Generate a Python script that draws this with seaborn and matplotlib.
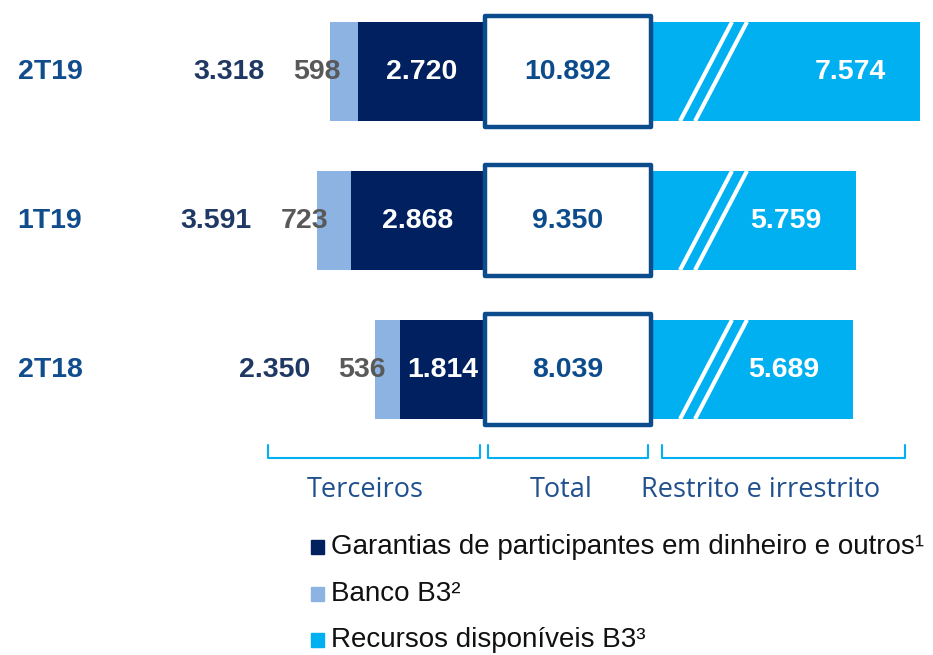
import matplotlib
matplotlib.use('Agg')
import numpy as np
import pandas as pd
import matplotlib.pyplot as plt
import seaborn as sns
from matplotlib.patches import Rectangle

# --- data (R$ milhões) ---
periodos = ['2T19', '1T19', '2T18']
garantias = [2720, 2868, 1814]      # Garantias de participantes em dinheiro e outros
banco_b3 = [598, 723, 536]          # Banco B3
terceiros = [3318, 3591, 2350]      # total de terceiros
total = [10892, 9350, 8039]
recursos = [7574, 5759, 5689]       # Recursos disponíveis B3

legend_labels = ['Garantias de participantes em dinheiro e outros¹', 'Banco B3²', 'Recursos disponíveis B3³']
grupos = ['Terceiros', 'Total', 'Restrito e irrestrito']

# --- colours ---
NAVY = '#002060'
LIGHT = '#8DB3E2'
CYAN = '#00B0F0'
BOX_BLUE = '#0D4C8C'
CAT_BLUE = '#114D8C'
DARK_LBL = '#1F3864'
GREY_LBL = '#595959'
GROUP_BLUE = '#21508F'

# --- layout constants ---
PX = 21.37            # data units per pixel
ZERO_PX = 485         # pixel where the left bars start
BOX_W = 166 * PX      # width of the "Total" box
RIGHT_SCALE = 0.76    # right side is drawn on a broken (compressed) scale

df = pd.DataFrame({
    'periodo': periodos,
    'garantias': garantias,
    'banco': banco_b3,
    'terceiros': terceiros,
    'total': total,
    'recursos': recursos,
})
df['esq_terceiros'] = -df['terceiros']
df['esq_garantias'] = -df['garantias']
df['dir_recursos'] = BOX_W + RIGHT_SCALE * df['recursos']
df['caixa'] = BOX_W

sns.set_theme(style='white')
plt.rcParams['font.family'] = ['Liberation Sans', 'DejaVu Sans']

fig = plt.figure(figsize=(9.33, 6.55), dpi=100)
ax = fig.add_axes([0, 0, 1, 1])

# --- bars ---
common = dict(y='periodo', orient='h', saturation=1, linewidth=0, ax=ax, data=df)
sns.barplot(x='esq_terceiros', color=LIGHT, width=0.665, **common)
sns.barplot(x='esq_garantias', color=NAVY, width=0.665, **common)
sns.barplot(x='dir_recursos', color=CYAN, width=0.665, **common)
n_before = len(ax.patches)
sns.barplot(data=df, x='caixa', y='periodo', orient='h', saturation=1, color='white',
            edgecolor=BOX_BLUE, linewidth=3.2, width=0.745, ax=ax)
for p in ax.patches[n_before:]:
    p.set_joinstyle('round')

# break marks on the right bars
for i in range(len(periodos)):
    for xc in (BOX_W + 55 * PX, BOX_W + 70 * PX):
        ax.plot([xc - 26 * PX, xc + 26 * PX], [i + 0.333, i - 0.333],
                color='white', lw=3, solid_capstyle='butt')

ax.set_xlim(-ZERO_PX * PX, (933 - ZERO_PX) * PX)
ax.set_ylim(3.916, -0.48)
ax.axis('off')


def fmt(v):
    return f"{v:,}".replace(',', '.')


val_kw = dict(va='center', fontsize=20.5, fontweight='bold')
for i, row in df.iterrows():
    ax.text(-ZERO_PX * PX + 50 * PX, i, row['periodo'], ha='center', color=CAT_BLUE, **val_kw)
    ax.text(-row['terceiros'] - 65 * PX, i, fmt(row['terceiros']), ha='right', color=DARK_LBL, **val_kw)
    ax.text(-row['terceiros'] + 11 * PX, i, fmt(row['banco']), ha='right', color=GREY_LBL, **val_kw)
    ax.text(-row['garantias'] / 2, i, fmt(row['garantias']), ha='center', color='white', **val_kw)
    ax.text(BOX_W / 2, i, fmt(row['total']), ha='center', color=BOX_BLUE, **val_kw)
    ax.text(row['dir_recursos'] - 34 * PX, i, fmt(row['recursos']), ha='right', color='white', **val_kw)

# --- overlay in pixel coordinates for brackets and legend ---
ov = fig.add_axes([0, 0, 1, 1], facecolor='none')
ov.set_xlim(0, 933)
ov.set_ylim(655, 0)
ov.axis('off')

brackets = [(268, 480), (488, 648), (662, 905)]
label_x = [365, 561, 761]
for (x0, x1), lx, g in zip(brackets, label_x, grupos):
    ov.plot([x0, x0, x1, x1], [445, 458, 458, 445], color=CYAN, lw=1.5,
            solid_joinstyle='round')
    ov.text(lx, 490, g, ha='center', va='center', fontsize=19.5, color=GROUP_BLUE,
            family=['Open Sans', 'DejaVu Sans'])

for y, c, lab in zip([547, 594, 640], [NAVY, LIGHT, CYAN], legend_labels):
    ov.add_patch(Rectangle((311, y - 7), 13, 14, color=c))
    ov.text(331, y, lab, ha='left', va='center', fontsize=20, color='#111111')

fig.savefig('out.png', dpi=100)
